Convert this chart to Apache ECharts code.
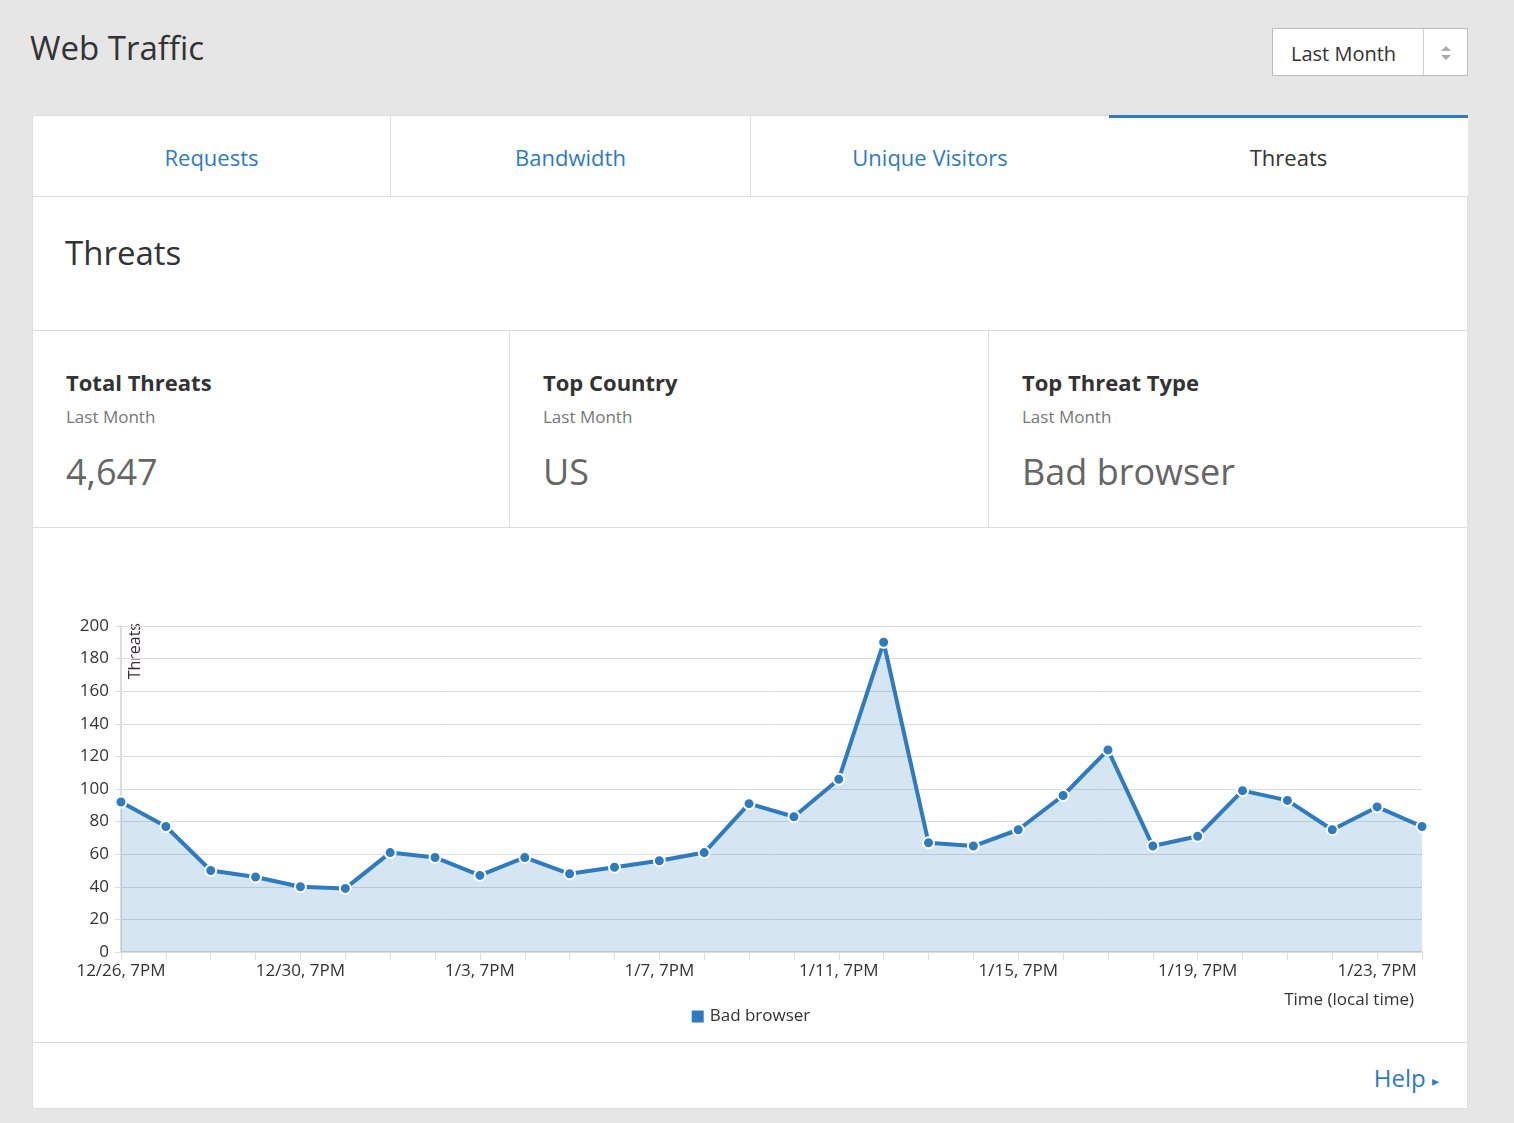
<!DOCTYPE html>
<html><head><meta charset="utf-8">
<script src="https://cdn.jsdelivr.net/npm/echarts@6/dist/echarts.min.js"></script>
<style>
body{margin:0;width:1514px;height:1123px;background:#e6e6e6;font-family:"Open Sans",sans-serif;color:#333;position:relative;overflow:hidden}
.abs{position:absolute}
.title{left:30px;top:25px;font-size:33px;color:#333}
.sel{left:1272px;top:28px;width:196px;height:48px;background:#fff;border:1px solid #bbb;box-sizing:border-box}
.sel span{position:absolute;left:18px;top:11px;font-size:20px}
.sel i{position:absolute;left:150px;top:0;width:1px;height:46px;background:#ccc}
.tab{top:115px;height:82px;background:#fff;box-sizing:border-box;border:1px solid #ddd;text-align:center;line-height:82px;font-size:22px;color:#2f7bbf}
.tab.active{border:none;border-top:3px solid #2f7bbf;color:#333;line-height:79px;height:83px}
.panel{left:32px;width:1436px;background:#fff;box-sizing:border-box;border:1px solid #ddd}
.stat{top:330px;height:198px;background:#fff;box-sizing:border-box;border:1px solid #ddd}
.stat b{position:absolute;left:33px;top:36px;font-size:22px;font-weight:700;color:#333}
.stat .s{position:absolute;left:33px;top:74px;font-size:17px;color:#777}
.stat .v{position:absolute;left:33px;top:116px;font-size:36px;color:#666}
</style></head><body>
<div class="abs title">Web Traffic</div>
<div class="abs sel"><span>Last Month</span><i></i>
<svg class="abs" style="left:166px;top:16px" width="14" height="16"><path d="M2 6 L7 1 L12 6Z M2 10 L7 15 L12 10Z" fill="#aaa"/></svg></div>
<div class="abs tab" style="left:32px;width:359px">Requests</div>
<div class="abs tab" style="left:390px;width:361px">Bandwidth</div>
<div class="abs tab" style="left:750px;width:360px">Unique Visitors</div>
<div class="abs tab active" style="left:1109px;width:359px">Threats</div>
<div class="abs panel" style="top:196px;height:135px"><div class="abs" style="left:32px;top:33px;font-size:33px;color:#333">Threats</div></div>
<div class="abs stat" style="left:32px;width:478px"><b>Total Threats</b><div class="s">Last Month</div><div class="v">4,647</div></div>
<div class="abs stat" style="left:509px;width:480px"><b>Top Country</b><div class="s">Last Month</div><div class="v">US</div></div>
<div class="abs stat" style="left:988px;width:480px"><b>Top Threat Type</b><div class="s">Last Month</div><div class="v">Bad browser</div></div>
<div class="abs panel" style="top:527px;height:517px"></div>
<div class="abs panel" style="top:1042px;height:67px"><div class="abs" style="right:28px;top:18px;font-size:24px;color:#2f7bbf">Help <span style="font-size:14px;vertical-align:middle">&#9656;</span></div></div>
<div id="c" class="abs" style="left:32px;top:529px;width:1436px;height:513px"></div>
<script>
const categories=['12/26, 7PM','12/27, 7PM','12/28, 7PM','12/29, 7PM','12/30, 7PM','12/31, 7PM','1/1, 7PM','1/2, 7PM','1/3, 7PM','1/4, 7PM','1/5, 7PM','1/6, 7PM','1/7, 7PM','1/8, 7PM','1/9, 7PM','1/10, 7PM','1/11, 7PM','1/12, 7PM','1/13, 7PM','1/14, 7PM','1/15, 7PM','1/16, 7PM','1/17, 7PM','1/18, 7PM','1/19, 7PM','1/20, 7PM','1/21, 7PM','1/22, 7PM','1/23, 7PM','1/24, 7PM'];
const badBrowser=[92,77,50,46,40,39,61,58,47,58,48,52,56,61,91,83,106,190,67,65,75,96,124,65,71,99,93,75,89,77];
const ch=echarts.init(document.getElementById('c'));
const blue='#2f7bbf';
ch.setOption({
 animation:false,
 textStyle:{fontFamily:'Open Sans'},
 grid:{left:89,right:46,top:97,bottom:90},
 legend:{bottom:12,left:'center',icon:'rect',itemWidth:14,itemHeight:14,textStyle:{fontSize:17,color:'#333'},data:['Bad browser']},
 xAxis:{type:'category',boundaryGap:false,data:categories,
  name:'Time (local time)',nameLocation:'end',nameGap:0,
  nameTextStyle:{fontSize:17,color:'#333',align:'right',verticalAlign:'top',padding:[40,8,0,0]},
  axisLine:{lineStyle:{color:'#ddd',width:2}},axisTick:{interval:0,length:8,lineStyle:{color:'#ddd'}},
  axisLabel:{interval:3,fontSize:17,color:'#333',margin:11}},
 yAxis:{type:'value',min:0,max:200,interval:20,
  axisLine:{show:true,lineStyle:{color:'#ddd',width:2}},axisTick:{show:true,length:6,lineStyle:{color:'#ddd'}},
  axisLabel:{fontSize:17,color:'#333',margin:12},splitLine:{lineStyle:{color:'#ddd'}}},
 graphic:[{type:'text',left:95,top:94,rotation:Math.PI/2,style:{text:'Threats',fontSize:16,fill:'#3a2a3a',fontFamily:'Open Sans'}}],
 series:[{name:'Bad browser',type:'line',data:badBrowser,symbol:'circle',symbolSize:11,
  itemStyle:{color:blue,borderColor:'#fff',borderWidth:2},lineStyle:{color:blue,width:4},
  areaStyle:{color:'rgba(47,123,191,0.2)',opacity:1}}]
});
</script>
</body></html>
